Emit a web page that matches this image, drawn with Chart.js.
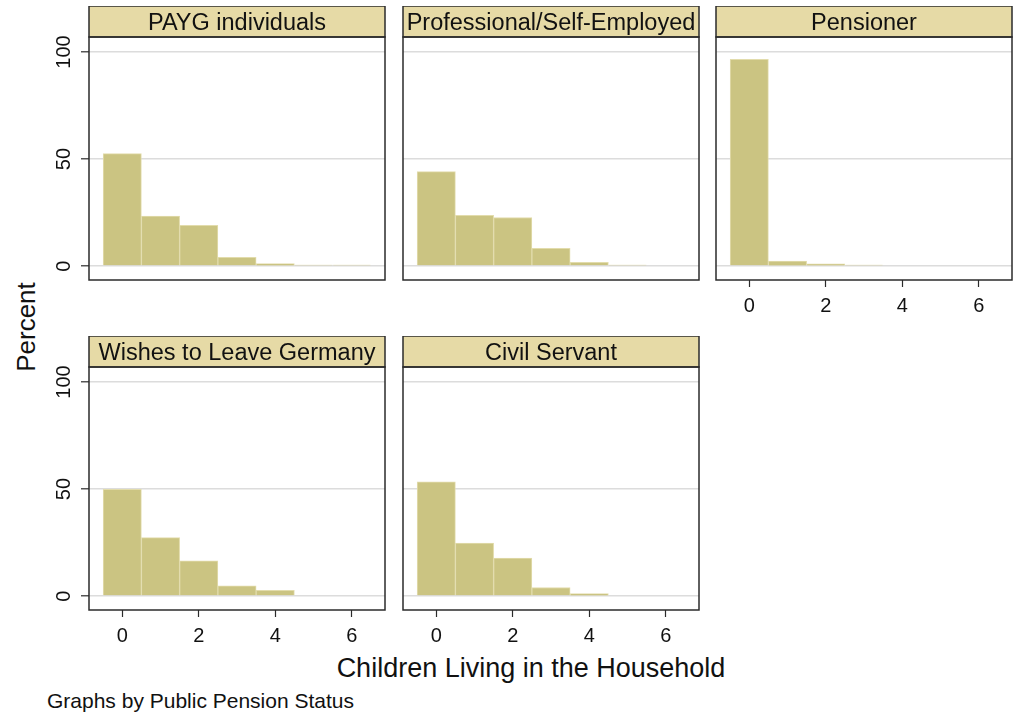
<!DOCTYPE html>
<html>
<head>
<meta charset="utf-8">
<title>Children Living in the Household by Public Pension Status</title>
<script src="https://cdn.jsdelivr.net/npm/chart.js@4/dist/chart.umd.min.js"></script>
<style>
  html, body { margin: 0; padding: 0; background: #ffffff; }
  body { width: 1014px; height: 715px; position: relative; overflow: hidden;
         font-family: "Liberation Sans", Arial, Helvetica, sans-serif; color: #111; }
  canvas.panel { position: absolute; }
  .label { position: absolute; white-space: nowrap; color: #111; line-height: 1; }
  #yTitle { font-size: 26px; left: 26px; top: 327px; transform: translate(-50%, -50%) rotate(-90deg); }
  #xTitle { font-size: 27px; left: 531px; top: 668px; transform: translate(-50%, -50%); }
  #note { font-size: 21px; left: 47px; top: 700px; transform: translateY(-50%); }
</style>
</head>
<body>
<div class="label" id="yTitle">Percent</div>
<div class="label" id="xTitle">Children Living in the Household</div>
<div class="label" id="note">Graphs by Public Pension Status</div>

<script>
// Number of children in the household (histogram bins, width 1)
const childCounts = [0, 1, 2, 3, 4, 5, 6];

// Percent of respondents per bin, by public pension status
const paygPct         = [52.5, 23.4, 19.0, 4.1, 1.2, 0.5, 0.5];
const professionalPct = [44.1, 23.7, 22.7, 8.3, 1.7, 0.5];
const pensionerPct    = [96.6, 2.3, 1.1, 0.5];
const leaveGermanyPct = [49.9, 27.3, 16.5, 4.8, 2.7];
const civilServantPct = [53.4, 24.7, 17.7, 4.0, 1.2];

const panelTitles = ['PAYG individuals', 'Professional/Self-Employed', 'Pensioner',
                     'Wishes to Leave Germany', 'Civil Servant'];
const panelValues = [paygPct, professionalPct, pensionerPct, leaveGermanyPct, civilServantPct];

// Axis ticks
const xTickValues = [0, 2, 4, 6];
const yTickValues = [0, 50, 100];

// ---- layout of the small multiples ----
const colLeft = [89, 403, 716];
const rowHeaderTop = [6, 336];
const plotW = 296, headerH = 31, plotH = 243;
const yAxisW = 49, xAxisH = 44, rightPad = 4;
const panelPlace = [
  { col: 0, row: 0, showY: true,  showX: false },
  { col: 1, row: 0, showY: false, showX: false },
  { col: 2, row: 0, showY: false, showX: true  },
  { col: 0, row: 1, showY: true,  showX: true  },
  { col: 1, row: 1, showY: false, showX: true  }
];

const FONT = '"Liberation Sans", Arial, Helvetica, sans-serif';
const barFill = 'rgb(203,196,130)';
const barEdge = 'rgb(226,220,172)';
const headerFill = 'rgb(230,218,166)';
const frameColor = '#2b2b2b';

// Draws the titled strip above each plot and the frame around the plot region
const panelFrame = {
  id: 'panelFrame',
  afterDraw(chart, args, opts) {
    const { ctx, chartArea: a } = chart;
    ctx.save();
    // header strip
    ctx.fillStyle = headerFill;
    ctx.fillRect(a.left, a.top - headerH, a.right - a.left, headerH);
    ctx.strokeStyle = frameColor;
    ctx.lineWidth = 1.5;
    ctx.strokeRect(a.left, a.top - headerH, a.right - a.left, headerH);
    ctx.fillStyle = '#111';
    ctx.font = '23.5px ' + FONT;
    ctx.textAlign = 'center';
    ctx.textBaseline = 'alphabetic';
    ctx.fillText(opts.title, (a.left + a.right) / 2, a.top - headerH + 24);
    // plot frame
    ctx.strokeRect(a.left, a.top, a.right - a.left, a.bottom - a.top);
    ctx.restore();
  }
};

panelPlace.forEach((p, i) => {
  const canvas = document.createElement('canvas');
  canvas.className = 'panel';
  const w = yAxisW + plotW + rightPad;
  const h = headerH + plotH + (p.showX ? xAxisH : 2);
  canvas.width = w; canvas.height = h;
  canvas.style.width = w + 'px'; canvas.style.height = h + 'px';
  canvas.style.left = (colLeft[p.col] - yAxisW) + 'px';
  canvas.style.top = rowHeaderTop[p.row] + 'px';
  document.body.appendChild(canvas);

  const values = panelValues[i];
  new Chart(canvas, {
    type: 'bar',
    data: {
      datasets: [{
        data: values.map((v, k) => ({ x: childCounts[k], y: v })),
        backgroundColor: barFill,
        borderColor: barEdge,
        borderWidth: 1,
        borderSkipped: 'start',
        barPercentage: 1,
        categoryPercentage: 1
      }]
    },
    options: {
      responsive: false,
      animation: false,
      devicePixelRatio: 1,
      layout: { padding: { top: headerH, left: 0, right: rightPad, bottom: p.showX ? 0 : 2 } },
      plugins: {
        legend: { display: false },
        tooltip: { enabled: false },
        panelFrame: { title: panelTitles[i] }
      },
      scales: {
        x: {
          type: 'linear',
          offset: false,
          min: -0.87, max: 6.87,
          afterBuildTicks: s => { s.ticks = xTickValues.map(v => ({ value: v })); },
          afterFit: s => {
            s.height = p.showX ? xAxisH : 0;
            s.paddingLeft = 0; s.paddingRight = 0;
          },
          border: { display: false },
          grid: { display: p.showX, offset: false, drawOnChartArea: false, drawTicks: p.showX,
                  tickLength: 7, tickColor: frameColor, tickWidth: 1.2 },
          ticks: { display: p.showX, maxRotation: 0, padding: 7, color: '#111',
                   font: { family: FONT, size: 20 } }
        },
        y: {
          min: -6.5, max: 107,
          afterBuildTicks: s => { s.ticks = yTickValues.map(v => ({ value: v })); },
          afterFit: s => {
            s.width = yAxisW;
            s.paddingTop = 0; s.paddingBottom = 0;
          },
          border: { display: false },
          grid: { color: '#dcdcdc', lineWidth: 1.6, drawTicks: p.showY,
                  tickLength: 8, tickColor: frameColor, tickWidth: 1.2 },
          ticks: { display: p.showY, minRotation: 90, maxRotation: 90, crossAlign: 'center',
                   padding: 0, color: '#111', font: { family: FONT, size: 20 } }
        }
      }
    },
    plugins: [panelFrame]
  });
});
</script>
</body>
</html>
